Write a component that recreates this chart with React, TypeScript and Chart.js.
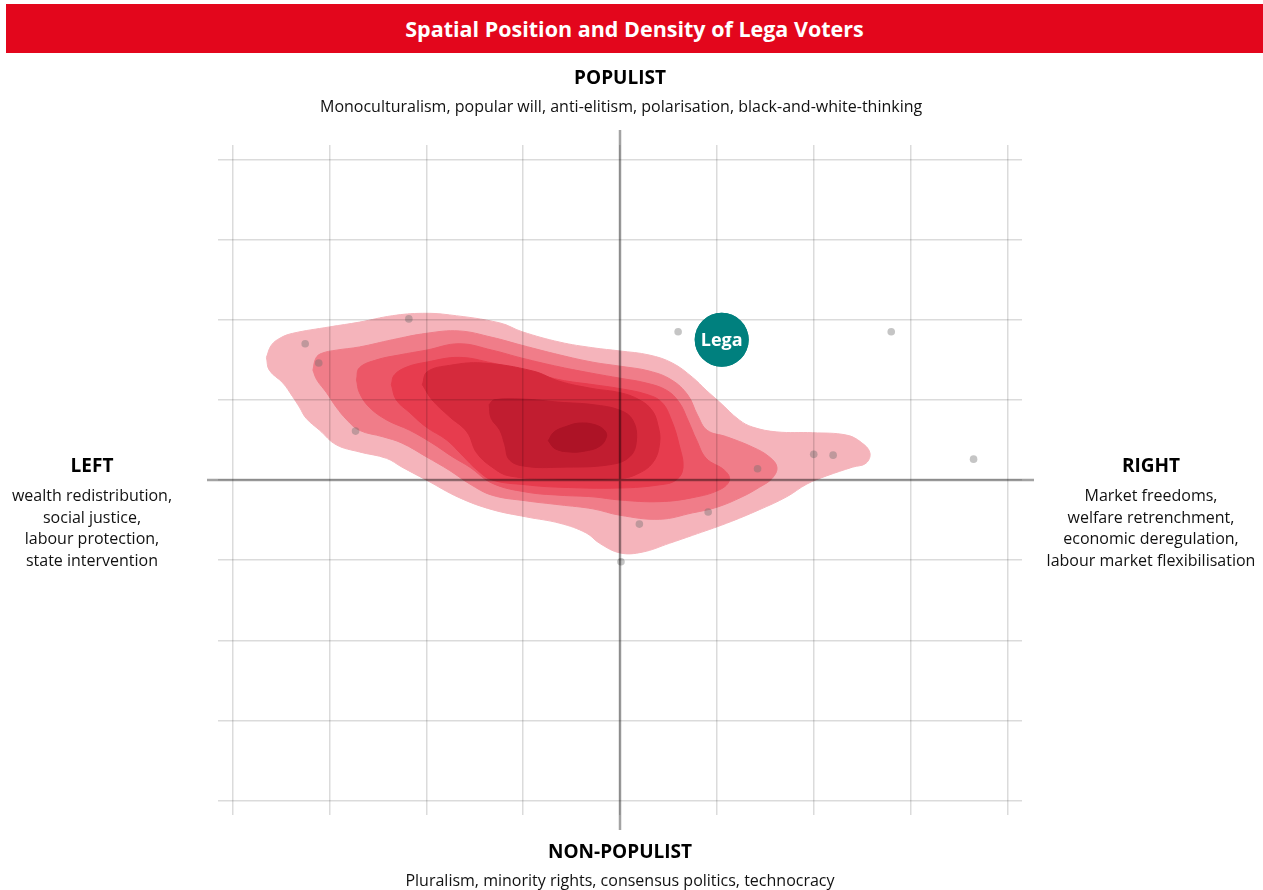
import React, { useEffect, useRef } from "react";
import { Chart, registerables } from "chart.js";

Chart.register(...registerables);

const FONT = '"Open Sans", "Noto Sans", sans-serif';

// ---- axes ----
const gridTicks = [-4, -3, -2, -1, 0, 1, 2, 3, 4];
const xRange = [-4.15, 4.15];
const yRange = [-4.18, 4.18];

// ---- density levels (outer -> inner) ----
const densityColors = ["#f5b4bb", "#f07d89", "#ec5767", "#e73c4e", "#d52a3c", "#c11d30", "#ad1326"];

const densityLevel1: [number, number][] = [
  [-3.65, 1.53], [-3.6, 1.68], [-3.51, 1.77], [-3.38, 1.83], [-3.0, 1.91], [-2.69, 1.97], [-2.35, 2.05],
  [-2.04, 2.08], [-1.76, 2.06], [-1.24, 1.96], [-1.01, 1.85], [-0.62, 1.72], [-0.28, 1.65], [0.0, 1.61],
  [0.3, 1.56], [0.54, 1.46], [0.75, 1.28], [0.89, 1.12], [1.03, 0.97], [1.23, 0.75], [1.37, 0.66],
  [1.62, 0.6], [1.99, 0.59], [2.34, 0.56], [2.49, 0.47], [2.58, 0.34], [2.54, 0.21], [2.4, 0.16],
  [2.13, 0.05], [1.93, -0.05], [1.72, -0.21], [1.44, -0.37], [1.1, -0.54], [0.75, -0.69], [0.51, -0.79],
  [0.23, -0.9], [0.0, -0.91], [-0.21, -0.79], [-0.35, -0.66], [-0.62, -0.54], [-0.97, -0.46], [-1.32, -0.37],
  [-1.66, -0.22], [-2.0, 0.0], [-2.25, 0.16], [-2.41, 0.27], [-2.69, 0.35], [-2.93, 0.44], [-3.1, 0.62],
  [-3.24, 0.77], [-3.31, 0.91], [-3.38, 1.04], [-3.48, 1.21], [-3.62, 1.37],
];
const densityLevel2: [number, number][] = [
  [-3.17, 1.37], [-3.14, 1.52], [-3.08, 1.58], [-2.93, 1.62], [-2.69, 1.66], [-2.35, 1.75], [-2.0, 1.83],
  [-1.66, 1.86], [-1.32, 1.78], [-1.01, 1.68], [-0.62, 1.56], [-0.28, 1.47], [0.0, 1.42], [0.3, 1.36],
  [0.53, 1.25], [0.7, 1.06], [0.8, 0.81], [0.9, 0.62], [1.1, 0.54], [1.37, 0.41], [1.54, 0.29],
  [1.62, 0.16], [1.57, 0.02], [1.44, -0.09], [1.26, -0.21], [1.0, -0.34], [0.75, -0.41], [0.41, -0.49],
  [0.0, -0.44], [-0.28, -0.36], [-0.62, -0.31], [-0.97, -0.26], [-1.32, -0.19], [-1.55, -0.05],
  [-1.76, 0.12], [-2.0, 0.29], [-2.25, 0.46], [-2.45, 0.54], [-2.69, 0.62], [-2.82, 0.75], [-2.93, 0.91],
  [-3.03, 1.09], [-3.13, 1.25],
];
const densityLevel3: [number, number][] = [
  [-2.72, 1.25], [-2.69, 1.4], [-2.51, 1.5], [-2.28, 1.56], [-2.0, 1.62], [-1.66, 1.7], [-1.32, 1.62],
  [-1.01, 1.52], [-0.62, 1.41], [-0.28, 1.33], [0.0, 1.27], [0.27, 1.21], [0.48, 1.12], [0.61, 0.97],
  [0.7, 0.75], [0.79, 0.5], [0.89, 0.27], [1.08, 0.12], [1.13, 0.0], [1.03, -0.12], [0.75, -0.22],
  [0.41, -0.27], [0.0, -0.25], [-0.28, -0.21], [-0.62, -0.19], [-0.97, -0.15], [-1.32, -0.04],
  [-1.55, 0.16], [-1.73, 0.29], [-1.94, 0.46], [-2.17, 0.62], [-2.41, 0.75], [-2.59, 0.91], [-2.69, 1.09],
];
const densityLevel4: [number, number][] = [
  [-2.36, 1.19], [-2.33, 1.31], [-2.2, 1.41], [-2.0, 1.47], [-1.66, 1.53], [-1.32, 1.46], [-1.01, 1.37],
  [-0.62, 1.25], [-0.28, 1.19], [0.0, 1.14], [0.27, 1.07], [0.43, 0.97], [0.53, 0.75], [0.61, 0.44],
  [0.65, 0.15], [0.58, 0.0], [0.41, -0.06], [0.0, -0.1], [-0.62, -0.09], [-0.97, -0.06], [-1.32, 0.0],
  [-1.47, 0.12], [-1.63, 0.31], [-1.79, 0.5], [-2.0, 0.66], [-2.17, 0.84], [-2.31, 1.0],
];
const densityLevel5: [number, number][] = [
  [-2.04, 1.19], [-1.99, 1.35], [-1.76, 1.43], [-1.42, 1.46], [-0.9, 1.36], [-0.62, 1.23], [-0.28, 1.14],
  [0.0, 1.09], [0.2, 1.0], [0.33, 0.87], [0.39, 0.69], [0.41, 0.47], [0.34, 0.22], [0.17, 0.07],
  [0.0, 0.02], [-0.62, 0.01], [-1.14, 0.05], [-1.32, 0.16], [-1.48, 0.34], [-1.58, 0.6], [-1.76, 0.79],
  [-1.94, 1.0],
];
const densityLevel6: [number, number][] = [
  [-1.35, 0.94], [-1.3, 1.0], [-1.01, 1.01], [-0.62, 0.97], [-0.28, 0.94], [0.0, 0.87], [0.13, 0.75],
  [0.17, 0.5], [0.1, 0.29], [-0.11, 0.19], [-0.62, 0.16], [-0.97, 0.17], [-1.14, 0.25], [-1.19, 0.44],
  [-1.24, 0.62], [-1.33, 0.77],
];
const densityLevel7: [number, number][] = [
  [-0.74, 0.49], [-0.68, 0.6], [-0.55, 0.67], [-0.42, 0.71], [-0.26, 0.69], [-0.16, 0.62], [-0.14, 0.54],
  [-0.21, 0.42], [-0.37, 0.36], [-0.52, 0.35], [-0.67, 0.39],
];

// ---- individual voters ----
const voterX = [-3.25, -3.11, -2.18, -2.73, 0.6, 2.8, 1.42, 2.0, 2.2, 3.65, 0.91, 0.2, 0.01];
const voterY = [1.7, 1.46, 2.01, 0.61, 1.85, 1.85, 0.14, 0.32, 0.31, 0.26, -0.4, -0.55, -1.02];

// ---- party position ----
const legaLabel = "Lega";
const legaPos = [1.05, 1.75];

const densityLevels = [
  densityLevel1, densityLevel2, densityLevel3, densityLevel4, densityLevel5, densityLevel6, densityLevel7,
];

const toClosed = (arr: [number, number][]) => {
  const pts = arr.map(([x, y]) => ({ x, y }));
  pts.push({ ...pts[0] });
  return pts;
};

const overlayPlugin = {
  id: "overlay",
  afterDraw(chart: any) {
    const { ctx, chartArea, scales } = chart;
    const x0 = scales.x.getPixelForValue(0);
    const y0 = scales.y.getPixelForValue(0);
    ctx.save();
    ctx.strokeStyle = "rgba(0,0,0,0.36)";
    ctx.lineWidth = 2.5;
    ctx.beginPath();
    ctx.moveTo(x0, chartArea.top - 15);
    ctx.lineTo(x0, chartArea.bottom + 15);
    ctx.moveTo(chartArea.left - 11, y0);
    ctx.lineTo(chartArea.right + 12, y0);
    ctx.stroke();
    const meta = chart.getDatasetMeta(0);
    meta.data.forEach((el: any) => el.draw(ctx, chartArea));
    ctx.fillStyle = "#ffffff";
    ctx.font = `bold 18px ${FONT}`;
    ctx.textAlign = "center";
    ctx.textBaseline = "middle";
    meta.data.forEach((el: any) => ctx.fillText(legaLabel, el.x, el.y + 1));
    ctx.restore();
  },
};

function DensityChart() {
  const ref = useRef<HTMLCanvasElement | null>(null);
  useEffect(() => {
    if (!ref.current) return;
    const contourSets = densityLevels
      .map((lvl, i) => ({
        type: "line" as const,
        label: `density ${i + 1}`,
        data: toClosed(lvl),
        backgroundColor: densityColors[i],
        borderColor: densityColors[i],
        borderWidth: 1,
        pointRadius: 0,
        fill: "shape",
        tension: 0.4,
      }))
      .reverse();
    const gridOpts = { color: "rgba(0,0,0,0.14)", lineWidth: 1.5, drawTicks: false, z: 1 };
    const chart = new Chart(ref.current, {
      type: "scatter",
      data: {
        datasets: [
          {
            label: legaLabel,
            data: [{ x: legaPos[0], y: legaPos[1] }],
            backgroundColor: "#00807e",
            borderWidth: 0,
            pointRadius: 27,
            pointHoverRadius: 27,
          },
          {
            label: "Voters",
            data: voterX.map((x, i) => ({ x, y: voterY[i] })),
            backgroundColor: "rgba(110,110,110,0.4)",
            borderWidth: 0,
            pointRadius: 3.8,
          },
          ...(contourSets as any[]),
        ],
      },
      options: {
        animation: false,
        responsive: false,
        devicePixelRatio: 1,
        events: [],
        layout: { padding: { left: 218, right: 241, top: 145, bottom: 75 } },
        plugins: { legend: { display: false }, tooltip: { enabled: false } },
        scales: {
          x: {
            type: "linear",
            min: xRange[0],
            max: xRange[1],
            afterBuildTicks: (scale: any) => {
              scale.ticks = gridTicks.map((v) => ({ value: v }));
            },
            ticks: { display: false },
            border: { display: false },
            grid: gridOpts,
          },
          y: {
            type: "linear",
            min: yRange[0],
            max: yRange[1],
            afterBuildTicks: (scale: any) => {
              scale.ticks = gridTicks.map((v) => ({ value: v }));
            },
            ticks: { display: false },
            border: { display: false },
            grid: gridOpts,
          },
        },
      },
      plugins: [overlayPlugin],
    } as any);
    return () => chart.destroy();
  }, []);
  return (
    <canvas
      ref={ref}
      width={1263}
      height={890}
      style={{ position: "absolute", left: 0, top: 0, width: 1263, height: 890 }}
    />
  );
}

const textBase: React.CSSProperties = {
  position: "absolute",
  fontFamily: FONT,
  textAlign: "center",
  color: "#111",
  whiteSpace: "nowrap",
};

function Label({ cx, top, text, bold, size, lh }: { cx: number; top: number; text: string; bold?: boolean; size: number; lh: number }) {
  return (
    <div style={{ ...textBase, left: cx - 300, width: 600, top, fontSize: size, lineHeight: `${lh}px`, fontWeight: bold ? 700 : 400, color: bold ? "#000" : "#111" }}>
      {text}
    </div>
  );
}

const topTitle = "POPULIST";
const topDesc = "Monoculturalism, popular will, anti-elitism, polarisation, black-and-white-thinking";
const bottomTitle = "NON-POPULIST";
const bottomDesc = "Pluralism, minority rights, consensus politics, technocracy";
const leftTitle = "LEFT";
const leftDesc = ["wealth redistribution,", "social justice,", "labour protection,", "state intervention"];
const rightTitle = "RIGHT";
const rightDesc = ["Market freedoms,", "welfare retrenchment,", "economic deregulation,", "labour market flexibilisation"];

export default function App() {
  return (
    <div style={{ position: "absolute", left: 0, top: 0, width: 1263, height: 890, background: "#fff", overflow: "hidden" }}>
      <DensityChart />
      <div
        style={{
          position: "absolute",
          left: 6,
          top: 4,
          width: 1257,
          height: 49,
          background: "#e3061c",
          color: "#fff",
          fontFamily: FONT,
          fontWeight: 700,
          fontSize: 21.5,
          lineHeight: "49px",
          textAlign: "center",
        }}
      >
        Spatial Position and Density of Lega Voters
      </div>
      <Label cx={620} top={65} text={topTitle} bold size={19} lh={24} />
      <Label cx={620} top={95} text={topDesc} size={16} lh={22} />
      <Label cx={620} top={839} text={bottomTitle} bold size={19} lh={24} />
      <Label cx={620} top={869} text={bottomDesc} size={16} lh={22} />
      <Label cx={92} top={453} text={leftTitle} bold size={19} lh={24} />
      {leftDesc.map((t, i) => (
        <Label key={t} cx={92} top={484 + i * 21.5} text={t} size={16} lh={22} />
      ))}
      <Label cx={1151} top={453} text={rightTitle} bold size={19} lh={24} />
      {rightDesc.map((t, i) => (
        <Label key={t} cx={1151} top={484 + i * 21.5} text={t} size={16} lh={22} />
      ))}
    </div>
  );
}
